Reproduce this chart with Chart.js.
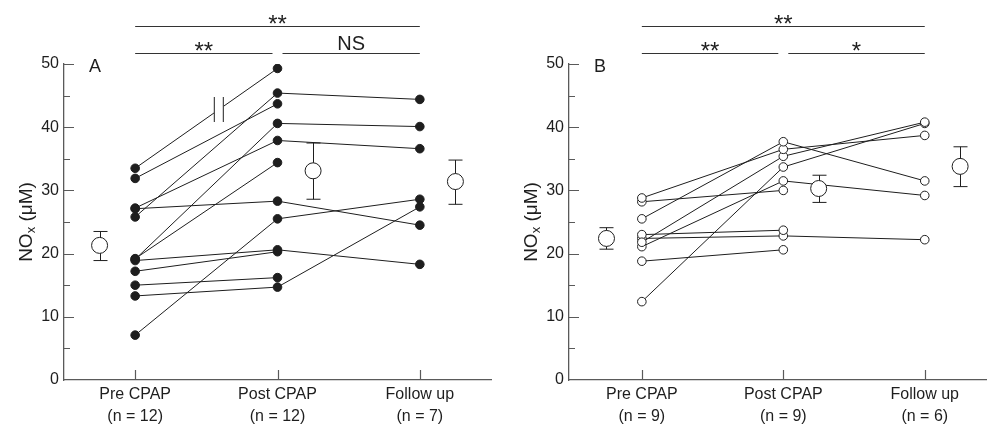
<!DOCTYPE html>
<html lang="en">
<head>
<meta charset="UTF-8">
<title>NOx before and after CPAP</title>
<script src="https://cdn.jsdelivr.net/npm/chart.js"></script>
<style>
  html, body { margin: 0; padding: 0; background: #fff; }
  .panel { position: absolute; top: 0; height: 426px; }
  #wrapA { left: 0; width: 495px; }
  #wrapB { left: 495px; width: 492px; }
</style>
</head>
<body>
<div class="panel" id="wrapA"><canvas id="chartA" width="495" height="426"></canvas></div>
<div class="panel" id="wrapB"><canvas id="chartB" width="492" height="426"></canvas></div>
<script>
// stages along the x axis
const stages = ['Pre CPAP', 'Post CPAP', 'Follow up'];
const nA = [12, 12, 7];
const nB = [9, 9, 6];
const yTicks = [0, 10, 20, 30, 40, 50];

// panel A: one entry per patient (null = no follow up)
const preA    = [33.5, 31.9, 25.8, 27.1, 27.2, 19.1, 19.2, 18.9, 17.2, 15.0, 13.3, 7.1];
const postA   = [49.3, 43.7, 45.4, 28.3, 37.9, 40.6, 34.4, 20.6, 20.3, 16.2, 14.7, 25.5];
const followA = [null, null, 44.4, 24.5, 36.6, 40.1, null, 18.3, null, null, 27.4, 28.6];
const meanA  = [21.3, 33.1, 31.4];
const upperA = [23.5, 37.5, 34.8];
const lowerA = [18.9, 28.6, 27.8];
const sigA = ['**', '**', 'NS'];   // pre-follow, pre-post, post-follow

// panel B
const preB    = [25.5, 28.8, 21.8, 12.4, 21.1, 28.2, 23.0, 22.4, 18.8];
const postB   = [37.7, 36.5, 35.4, 33.7, 31.5, 30.0, 23.7, 22.8, 20.6];
const followB = [31.5, 38.7, 40.8, 40.6, 29.2, null, null, 22.2, null];
const meanB  = [22.4, 30.3, 33.8];
const upperB = [24.1, 32.4, 36.9];
const lowerB = [20.7, 28.1, 30.6];
const sigB = ['**', '**', '*'];

const FONT = '"Liberation Sans", Arial, Helvetica, sans-serif';
const INK = '#1e1e1e';
const AXIS = '#5a5a5a';
const meanShift = [-0.25, 0.25, 0.25];

function drawYTitle(ctx, x, y) {
  ctx.save();
  ctx.translate(x, y);
  ctx.rotate(-Math.PI / 2);
  ctx.fillStyle = INK;
  ctx.textBaseline = 'alphabetic';
  ctx.textAlign = 'left';
  const big = '19px ' + FONT, small = '13px ' + FONT;
  ctx.font = big;
  const wNO = ctx.measureText('NO').width;
  const wRest = ctx.measureText(' (μM)').width;
  ctx.font = small;
  const wx = ctx.measureText('x').width;
  let cx = -(wNO + wx + wRest) / 2;
  ctx.font = big; ctx.fillText('NO', cx, 0); cx += wNO;
  ctx.font = small; ctx.fillText('x', cx, 3); cx += wx;
  ctx.font = big; ctx.fillText(' (μM)', cx, 0);
  ctx.restore();
}

function makePanel(canvasId, pre, post, follow, mean, upper, lower, n, sig, letter, lay) {
  const datasets = pre.map((v, i) => {
    const pts = [{x: 0, y: v}, {x: 1, y: post[i]}];
    if (follow[i] !== null) pts.push({x: 2, y: follow[i]});
    return {
      data: pts,
      showLine: true,
      borderColor: INK,
      borderWidth: 1,
      pointRadius: 4.3,
      pointBorderWidth: 1,
      pointBackgroundColor: lay.filled ? INK : '#fff',
      pointBorderColor: INK,
      order: 1
    };
  });
  datasets.push({
    data: mean.map((m, k) => ({x: k + meanShift[k], y: m})),
    showLine: false,
    pointRadius: 8,
    pointBorderWidth: 1,
    pointBackgroundColor: '#fff',
    pointBorderColor: INK,
    order: 0
  });

  const decor = {
    id: 'decor',
    beforeDatasetsDraw(chart) {
      const {ctx, scales: {x, y}} = chart;
      ctx.save();
      ctx.strokeStyle = INK;
      ctx.lineWidth = 1;
      mean.forEach((m, k) => {
        const px = Math.round(x.getPixelForValue(k + meanShift[k])) + 0.5;
        const top = y.getPixelForValue(upper[k]), bot = y.getPixelForValue(lower[k]);
        ctx.beginPath();
        ctx.moveTo(px, top); ctx.lineTo(px, bot);
        ctx.moveTo(px - 7, top); ctx.lineTo(px + 7, top);
        ctx.moveTo(px - 7, bot); ctx.lineTo(px + 7, bot);
        ctx.stroke();
      });
      ctx.restore();
    },
    afterDatasetsDraw(chart) {
      const {ctx, chartArea: ca, scales: {x, y}} = chart;
      ctx.save();
      // inward ticks
      ctx.strokeStyle = AXIS;
      ctx.lineWidth = 1.2;
      ctx.beginPath();
      for (let v = 5; v <= 50; v += 5) {
        const py = Math.round(y.getPixelForValue(v)) + 0.5;
        ctx.moveTo(ca.left, py);
        ctx.lineTo(ca.left + (v % 10 === 0 ? 10 : 6), py);
      }
      [0, 1, 2].forEach(k => {
        const px = Math.round(x.getPixelForValue(k)) + 0.5;
        ctx.moveTo(px, ca.bottom);
        ctx.lineTo(px, ca.bottom - 10);
      });
      ctx.stroke();

      // axis break on the top patient line
      if (lay.breakIdx !== undefined) {
        const i = lay.breakIdx;
        const x0 = x.getPixelForValue(0), y0 = y.getPixelForValue(pre[i]);
        const x1 = x.getPixelForValue(1), y1 = y.getPixelForValue(post[i]);
        const cx = x0 + 0.588 * (x1 - x0), cy = y0 + 0.588 * (y1 - y0);
        ctx.fillStyle = '#fff';
        ctx.fillRect(cx - 4.5, cy - 8, 9, 16);
        ctx.strokeStyle = '#444';
        ctx.lineWidth = 1.2;
        ctx.beginPath();
        ctx.moveTo(cx - 4.5, cy - 12.5); ctx.lineTo(cx - 4.5, cy + 12.5);
        ctx.moveTo(cx + 4.5, cy - 12.5); ctx.lineTo(cx + 4.5, cy + 12.5);
        ctx.stroke();
      }

      // significance brackets
      const p0 = x.getPixelForValue(0), p1 = x.getPixelForValue(1), p2 = x.getPixelForValue(2);
      const yTop = 26.5, yLow = 53.5;
      ctx.strokeStyle = '#333';
      ctx.lineWidth = 1;
      ctx.beginPath();
      ctx.moveTo(p0, yTop); ctx.lineTo(p2, yTop);
      ctx.moveTo(p0, yLow); ctx.lineTo(p1 - 5, yLow);
      ctx.moveTo(p1 + 5, yLow); ctx.lineTo(p2, yLow);
      ctx.stroke();
      ctx.fillStyle = INK;
      ctx.textAlign = 'center';
      ctx.textBaseline = 'alphabetic';
      const label = (txt, cx, lineY) => {
        if (txt === 'NS') {
          ctx.font = '20px ' + FONT;
          ctx.fillText(txt, cx, lineY - 4);
        } else {
          ctx.font = '24px ' + FONT;
          ctx.fillText(txt, cx, lineY + 5);
        }
      };
      label(sig[0], (p0 + p2) / 2, yTop);
      label(sig[1], (p0 + p1 - 5) / 2, yLow);
      label(sig[2], (p1 + 5 + p2) / 2, yLow);

      // panel letter and y title
      ctx.font = '18px ' + FONT;
      ctx.textAlign = 'left';
      ctx.fillText(letter, ca.left + lay.letterDx, 72);
      drawYTitle(ctx, ca.left - lay.titleDx, (ca.top + ca.bottom) / 2);
      ctx.restore();
    }
  };

  return new Chart(document.getElementById(canvasId), {
    type: 'scatter',
    data: {datasets},
    options: {
      responsive: false,
      animation: false,
      layout: {autoPadding: false, padding: {top: 64, right: lay.padRight, bottom: 0, left: 0}},
      plugins: {legend: {display: false}, tooltip: {enabled: false}},
      scales: {
        x: {
          type: 'linear',
          min: lay.xMin,
          max: lay.xMax,
          afterBuildTicks: s => { s.ticks = [0, 1, 2].map(v => ({value: v})); },
          afterFit: s => { s.height = 46; },
          ticks: {
            callback: v => [stages[v], '(n = ' + n[v] + ')'],
            font: {family: FONT, size: 16, lineHeight: 1.375},
            color: INK,
            padding: 4,
            maxRotation: 0,
            autoSkip: false
          },
          grid: {display: false, drawTicks: false},
          border: {display: true, color: AXIS, width: 1.3}
        },
        y: {
          min: 0,
          max: 50,
          afterBuildTicks: s => { s.ticks = yTicks.map(v => ({value: v})); },
          afterFit: s => { s.width = lay.yWidth; },
          ticks: {font: {family: FONT, size: 16}, color: INK, padding: 5},
          grid: {display: false, drawTicks: false},
          border: {display: true, color: AXIS, width: 1.3}
        }
      }
    },
    plugins: [decor]
  });
}

makePanel('chartA', preA, postA, followA, meanA, upperA, lowerA, nA, sigA, 'A',
  {filled: true, xMin: -0.5, xMax: 2.5, yWidth: 64, padRight: 4, letterDx: 25, titleDx: 32, breakIdx: 0});
makePanel('chartB', preB, postB, followB, meanB, upperB, lowerB, nB, sigB, 'B',
  {filled: false, xMin: -0.515, xMax: 2.44, yWidth: 74, padRight: 0, letterDx: 25, titleDx: 32});
</script>
</body>
</html>
